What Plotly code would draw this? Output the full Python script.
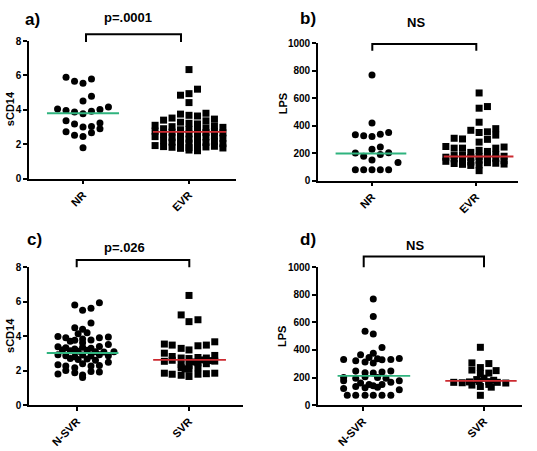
import plotly.graph_objects as go

W, H = 537, 451
FONT = "Arial, Liberation Sans, sans-serif"

# ---------------- data ----------------
ab_cats = ["NR", "EVR"]
cd_cats = ["N-SVR", "SVR"]
scd14_ticks = [0, 2, 4, 6, 8]
lps_ticks = [0, 200, 400, 600, 800, 1000]

# panel a: sCD14, NR vs EVR
a_nr_vals = [5.89, 5.66, 5.55, 5.79, 4.79, 4.51, 4.04, 3.96, 3.87, 3.77, 3.92, 4.02, 4.17,
             3.37, 3.17, 3.00, 3.03, 3.24, 2.90, 2.72, 2.52, 2.45, 2.66, 1.79]
a_nr_jit = [-0.16, -0.08, 0, 0.08, 0.08, 0, -0.24, -0.16, -0.08, 0, 0.08, 0.16, 0.24,
            -0.16, -0.08, 0, 0.08, 0.16, 0.16, -0.16, -0.08, 0, 0.08, 0]
a_evr_vals = [6.34, 5.20, 4.94, 4.85, 4.42,
              3.80, 3.75, 3.68, 3.64, 3.52, 3.46, 3.40, 3.36,
              3.28, 3.22, 3.18, 3.10, 3.06, 3.02, 2.98, 2.95,
              2.90, 2.86, 2.84, 2.80, 2.76, 2.74, 2.70, 2.68, 2.66,
              2.60, 2.56, 2.54, 2.50, 2.48, 2.44, 2.42, 2.38, 2.35,
              2.30, 2.26, 2.24, 2.20, 2.16, 2.12, 2.10, 2.06, 2.03, 2.00,
              1.96, 1.92, 1.88, 1.86, 1.84, 1.82, 1.80, 1.78, 1.76, 1.74,
              1.66, 1.62]
a_evr_jit = [0.0, 0.08, 0.0, -0.08, 0.0,
             0.16, -0.08, 0.0, 0.08, -0.16, 0.24, -0.24, 0.16,
             -0.08, 0.0, 0.08, -0.32, 0.24, -0.16, 0.32, 0.16,
             -0.24, 0.0, -0.08, 0.08, -0.32, 0.24, -0.16, 0.16, 0.32,
             0.0, -0.24, 0.08, -0.08, 0.24, -0.32, 0.16, -0.16, 0.32,
             0.0, -0.08, 0.08, -0.24, 0.24, -0.16, 0.16, 0.0, 0.32, -0.08,
             0.08, -0.32, 0.24, -0.24, 0.16, -0.16, 0.0, 0.32, -0.08, 0.08,
             0.0, 0.08]
a_medians = [3.80, 2.72]

# panel b: LPS, NR vs EVR
b_nr_vals = [768, 420, 333, 326, 321, 338, 350, 201, 177, 227, 245, 189, 203, 149, 132,
             78, 78, 78, 78, 78]
b_nr_jit = [0, 0, -0.16, -0.08, 0, 0.08, 0.16, -0.16, -0.08, 0, 0.08, 0.08, 0.16, 0, 0.25,
            -0.16, -0.08, 0, 0.08, 0.16]
b_evr_vals = [638, 539, 527, 425,
              378, 366, 355, 350, 331,
              308, 303, 300, 280,
              248, 244, 236, 236, 236, 220, 212, 205,
              190, 186, 182, 180, 177, 175, 170, 168,
              162, 158, 155, 152, 148, 144, 140, 135,
              130, 126, 124, 120, 118, 114, 110,
              72]
b_evr_jit = [0.03, 0.11, 0.03, 0.03,
             0.19, -0.05, 0.11, 0.03, 0.19,
             -0.21, -0.13, 0.11, 0.03,
             -0.29, 0.27, -0.21, -0.13, 0.19, 0.03, 0.11, -0.05,
             0.19, -0.13, -0.21, 0.11, 0.27, 0.03, -0.29, -0.05,
             0.19, -0.21, 0.11, -0.13, 0.03, 0.27, -0.29, -0.05,
             0.11, 0.19, -0.21, 0.27, -0.13, 0.03, -0.05,
             0.03]
b_medians = [197, 175]

# panel c: sCD14, N-SVR vs SVR
c_nsvr_vals = [5.93, 5.80, 5.50, 5.61,
               4.76,
               4.48, 4.40, 4.14, 4.20,
               3.98, 3.90, 3.76, 3.84, 3.78, 3.90, 3.95,
               3.62, 3.70,
               3.39, 3.33, 3.25, 3.36, 3.30, 3.40, 3.52,
               3.20, 3.15, 3.12, 3.18, 3.10, 3.08, 3.10,
               2.92, 2.86, 2.80, 2.90, 2.84, 2.92, 2.86,
               2.70, 2.64, 2.68, 2.60,
               2.34, 2.26, 2.17, 2.40, 2.26, 2.30, 2.48,
               2.00, 1.88, 1.75, 1.95, 1.92,
               1.60, 1.80]
c_nsvr_jit = [0.20, -0.02, 0.05, 0.125,
              0.125,
              -0.02, 0.05, 0.01, 0.09,
              -0.17, -0.10, -0.02, 0.05, 0.125, 0.20, 0.28,
              0.05, -0.06,
              -0.17, -0.10, -0.02, 0.05, 0.125, 0.20, 0.28,
              -0.13, -0.06, 0.01, 0.09, 0.165, 0.24, 0.33,
              -0.17, -0.10, -0.02, 0.05, 0.125, 0.20, 0.28,
              -0.06, 0.01, 0.09, 0.165,
              -0.17, -0.10, -0.02, 0.05, 0.125, 0.20, 0.28,
              -0.10, -0.02, 0.05, 0.125, 0.20,
              0.05, -0.17]
c_svr_vals = [6.36, 5.23, 4.84, 4.95,
              3.54, 3.48, 3.29, 3.20, 3.44, 3.48, 3.67,
              3.01, 2.82, 2.73, 2.70, 2.76, 2.73, 2.88,
              2.54, 2.60, 2.50, 2.62, 2.58,
              2.35, 2.30, 2.45, 2.40, 2.55,
              2.17, 2.07, 2.17, 2.10,
              1.85, 1.79, 1.73, 1.66, 1.79, 1.82, 1.85]
c_svr_jit = [0, -0.07, 0, 0.08,
             -0.22, -0.15, -0.07, 0, 0.08, 0.155, 0.23,
             -0.22, -0.15, -0.07, 0, 0.08, 0.155, 0.23,
             -0.22, -0.15, 0.04, 0.12, 0.19,
             -0.07, 0, 0.08, 0.155, 0.23,
             -0.07, 0, 0.08, -0.035,
             -0.22, -0.15, -0.07, 0, 0.08, 0.155, 0.23]
c_medians = [3.02, 2.62]

# panel d: LPS, N-SVR vs SVR
d_nsvr_vals = [769, 642, 536, 515, 418,
               376, 365, 345, 336,
               330, 322, 313, 306, 329, 330, 338,
               247, 235, 233, 240, 247,
               200, 195, 205, 200, 195, 176,
               176, 160, 150, 140, 150, 165,
               120, 135, 125, 130, 111,
               71, 71, 71, 71, 71, 71]
d_nsvr_jit = [0.085, 0.085, 0.017, 0.085, 0.157,
              0.085, -0.02, 0.05, 0.12,
              -0.16, -0.06, 0.017, 0.085, 0.157, 0.23, 0.30,
              -0.06, 0.017, 0.085, 0.157, 0.23,
              -0.16, -0.06, 0.017, 0.12, 0.19, 0.30,
              -0.16, -0.02, 0.05, 0.085, 0.157, 0.23,
              -0.16, -0.06, 0.017, 0.12, 0.30,
              -0.06, 0.017, 0.085, 0.157, 0.23, -0.13]
d_svr_vals = [419,
              306, 301,
              272, 254, 250, 232, 228,
              185, 195, 180,
              165, 162, 168, 172, 170, 165, 160,
              145, 135, 150, 130,
              71]
d_svr_jit = [-0.03,
             -0.10, 0.04,
             -0.03, -0.10, 0.10, 0.04, -0.03,
             -0.06, 0.0, 0.08,
             -0.25, -0.18, -0.12, -0.04, 0.04, 0.11, 0.18,
             -0.10, -0.03, 0.04, 0.06,
             -0.03]
d_medians = [212, 175]

# ---------------- layout (pixel geometry) ----------------
GREEN = "#2fb37e"
RED = "#cc2a30"


def pxx(x):
    return x / W


def pxy(y):
    return 1 - y / H


panels = [
    dict(label="a)", cats=ab_cats, ticks=scd14_ticks, ymax=8, ytitle="sCD14",
         groups=[(a_nr_vals, a_nr_jit, "circle"), (a_evr_vals, a_evr_jit, "square")],
         medians=a_medians, spans=[(-0.34, 0.34), (-0.34, 0.35)],
         x0=29, x1=236, c0=83, c1=189, ytop=36, ybot=177.3,
         lab=(32, 14), ytl=(10, 106), ptxt="p=.0001", pxy=(128, 12),
         br=(86, 181, 29, 37)),
    dict(label="b)", cats=ab_cats, ticks=lps_ticks, ymax=1000, ytitle="LPS",
         groups=[(b_nr_vals, b_nr_jit, "circle"), (b_evr_vals, b_evr_jit, "square")],
         medians=b_medians, spans=[(-0.35, 0.33), (-0.31, 0.36)],
         x0=318, x1=518, c0=372, c1=476, ytop=38.3, ybot=179.3,
         lab=(308, 13), ytl=(283, 101), ptxt="NS", pxy=(416, 17),
         br=(372.3, 476.3, 39, 46)),
    dict(label="c)", cats=cd_cats, ticks=scd14_ticks, ymax=8, ytitle="sCD14",
         groups=[(c_nsvr_vals, c_nsvr_jit, "circle"), (c_svr_vals, c_svr_jit, "square")],
         medians=c_medians, spans=[(-0.27, 0.37), (-0.32, 0.33)],
         x0=29, x1=243, c0=77, c1=189, ytop=268.3, ybot=410,
         lab=(34, 240), ytl=(10, 339), ptxt="p=.026", pxy=(124, 248),
         br=(76.7, 189.3, 261, 268.3)),
    dict(label="d)", cats=cd_cats, ticks=lps_ticks, ymax=1000, ytitle="LPS",
         groups=[(d_nsvr_vals, d_nsvr_jit, "circle"), (d_svr_vals, d_svr_jit, "square")],
         medians=d_medians, spans=[(-0.21, 0.39), (-0.32, 0.27)],
         x0=318, x1=522, c0=363, c1=484, ytop=268.3, ybot=410,
         lab=(308, 240), ytl=(282, 340), ptxt="NS", pxy=(415, 246.5),
         br=(363.7, 484, 257.3, 268.3)),
]

fig = go.Figure()
layout = dict(width=W, height=H, margin=dict(l=0, r=0, t=0, b=0),
              paper_bgcolor="white", plot_bgcolor="white", showlegend=False,
              font=dict(family=FONT, color="black"))
annotations = []
shapes = []


def note(text, x, y, size, angle=0):
    return dict(text=text, x=pxx(x), y=pxy(y), xref="paper", yref="paper",
                xanchor="center", yanchor="middle", showarrow=False, textangle=angle,
                font=dict(family=FONT, size=size, color="black", weight="bold"))


for i, p in enumerate(panels):
    n = "" if i == 0 else str(i + 1)
    xr, yr = "x" + n, "y" + n
    unit = p["c1"] - p["c0"]
    xrange = [(p["x0"] - p["c0"]) / unit, (p["x1"] - p["c0"]) / unit]

    for k, (vals, jit, sym) in enumerate(p["groups"]):
        fig.add_trace(go.Scatter(
            x=[k + j for j in jit], y=vals, mode="markers",
            marker=dict(symbol=sym, size=7, color="black", line=dict(width=0)),
            xaxis=xr, yaxis=yr, cliponaxis=False, hoverinfo="skip"))
    for k, (m, (lo, hi)) in enumerate(zip(p["medians"], p["spans"])):
        fig.add_trace(go.Scatter(
            x=[k + lo, k + hi], y=[m, m], mode="lines",
            line=dict(color=GREEN if k == 0 else RED, width=1.8),
            xaxis=xr, yaxis=yr, hoverinfo="skip"))

    layout["xaxis" + n] = dict(
        domain=[pxx(p["x0"]), pxx(p["x1"])], range=xrange, anchor=yr,
        tickmode="array", tickvals=[0, 1], ticktext=p["cats"], tickangle=-45,
        tickfont=dict(family=FONT, size=11, color="black", weight="bold"),
        showline=True, linecolor="black", linewidth=1.6, ticks="outside",
        ticklen=4, tickwidth=1.5, tickcolor="black", showgrid=False, zeroline=False)
    layout["yaxis" + n] = dict(
        domain=[pxy(p["ybot"]), pxy(p["ytop"])], range=[0, p["ymax"]], anchor=xr,
        tickmode="array", tickvals=p["ticks"],
        tickfont=dict(family=FONT, size=10, color="black", weight="bold"),
        showline=True, linecolor="black", linewidth=1.6, ticks="outside",
        ticklen=4, tickwidth=1.5, tickcolor="black", showgrid=False, zeroline=False)

    annotations.append(note(p["label"], p["lab"][0], p["lab"][1], 17))
    annotations.append(note(p["ptxt"], p["pxy"][0], p["pxy"][1], 13))
    annotations.append(note(p["ytitle"], p["ytl"][0], p["ytl"][1], 11, -90))
    bx0, bx1, bt, bb = p["br"]
    shapes.append(dict(type="path", xref="paper", yref="paper",
                       path="M {} {} L {} {} L {} {} L {} {}".format(
                           pxx(bx0), pxy(bb), pxx(bx0), pxy(bt),
                           pxx(bx1), pxy(bt), pxx(bx1), pxy(bb)),
                       line=dict(color="black", width=2)))

layout["annotations"] = annotations
layout["shapes"] = shapes
fig.update_layout(**layout)

fig.write_html("out.html", config={"displayModeBar": False},
               post_script="document.body.style.margin='0';")
